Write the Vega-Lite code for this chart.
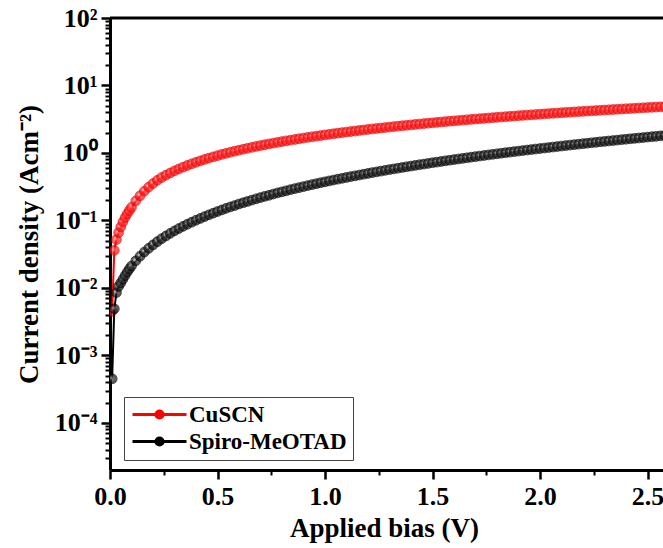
{
  "$schema": "https://vega.github.io/schema/vega-lite/v6.json",
  "width": 553,
  "height": 452,
  "autosize": {"type": "none"},
  "padding": {"left": 110, "top": 18, "right": 0, "bottom": 78},
  "config": {"view": {"stroke": null}, "font": "Liberation Serif"},
  "data": {"values": [
    {"V":0.01,"CuSCN":0.0045,"Spiro":0.00045},
    {"V":0.02,"CuSCN":0.036,"Spiro":0.0049},
    {"V":0.03,"CuSCN":0.052,"Spiro":0.0085},
    {"V":0.04,"CuSCN":0.066,"Spiro":0.0105},
    {"V":0.05,"CuSCN":0.08,"Spiro":0.0118},
    {"V":0.06,"CuSCN":0.095,"Spiro":0.0134},
    {"V":0.07,"CuSCN":0.11,"Spiro":0.0152},
    {"V":0.08,"CuSCN":0.125,"Spiro":0.0171},
    {"V":0.09,"CuSCN":0.14,"Spiro":0.0191},
    {"V":0.10,"CuSCN":0.156,"Spiro":0.0211},
    {"V":0.12,"CuSCN":0.195,"Spiro":0.0252},
    {"V":0.14,"CuSCN":0.232,"Spiro":0.0295},
    {"V":0.16,"CuSCN":0.272,"Spiro":0.034},
    {"V":0.18,"CuSCN":0.312,"Spiro":0.0386},
    {"V":0.20,"CuSCN":0.352,"Spiro":0.0434},
    {"V":0.22,"CuSCN":0.393,"Spiro":0.0484},
    {"V":0.24,"CuSCN":0.432,"Spiro":0.0535},
    {"V":0.26,"CuSCN":0.468,"Spiro":0.0588},
    {"V":0.28,"CuSCN":0.505,"Spiro":0.0643},
    {"V":0.30,"CuSCN":0.542,"Spiro":0.0699},
    {"V":0.32,"CuSCN":0.578,"Spiro":0.0757},
    {"V":0.34,"CuSCN":0.616,"Spiro":0.0817},
    {"V":0.36,"CuSCN":0.653,"Spiro":0.0878},
    {"V":0.38,"CuSCN":0.69,"Spiro":0.0941},
    {"V":0.40,"CuSCN":0.727,"Spiro":0.1006},
    {"V":0.42,"CuSCN":0.764,"Spiro":0.107},
    {"V":0.44,"CuSCN":0.801,"Spiro":0.114},
    {"V":0.46,"CuSCN":0.838,"Spiro":0.121},
    {"V":0.48,"CuSCN":0.875,"Spiro":0.128},
    {"V":0.50,"CuSCN":0.912,"Spiro":0.1355},
    {"V":0.52,"CuSCN":0.95,"Spiro":0.143},
    {"V":0.54,"CuSCN":0.987,"Spiro":0.151},
    {"V":0.56,"CuSCN":1.024,"Spiro":0.1585},
    {"V":0.58,"CuSCN":1.061,"Spiro":0.166},
    {"V":0.60,"CuSCN":1.099,"Spiro":0.175},
    {"V":0.62,"CuSCN":1.136,"Spiro":0.183},
    {"V":0.64,"CuSCN":1.173,"Spiro":0.191},
    {"V":0.66,"CuSCN":1.211,"Spiro":0.2},
    {"V":0.68,"CuSCN":1.248,"Spiro":0.209},
    {"V":0.70,"CuSCN":1.286,"Spiro":0.218},
    {"V":0.72,"CuSCN":1.323,"Spiro":0.227},
    {"V":0.74,"CuSCN":1.361,"Spiro":0.236},
    {"V":0.76,"CuSCN":1.398,"Spiro":0.246},
    {"V":0.78,"CuSCN":1.436,"Spiro":0.256},
    {"V":0.80,"CuSCN":1.473,"Spiro":0.265},
    {"V":0.82,"CuSCN":1.511,"Spiro":0.275},
    {"V":0.84,"CuSCN":1.549,"Spiro":0.286},
    {"V":0.86,"CuSCN":1.586,"Spiro":0.296},
    {"V":0.88,"CuSCN":1.624,"Spiro":0.306},
    {"V":0.90,"CuSCN":1.662,"Spiro":0.317},
    {"V":0.92,"CuSCN":1.699,"Spiro":0.328},
    {"V":0.94,"CuSCN":1.737,"Spiro":0.339},
    {"V":0.96,"CuSCN":1.775,"Spiro":0.35},
    {"V":0.98,"CuSCN":1.812,"Spiro":0.362},
    {"V":1.00,"CuSCN":1.85,"Spiro":0.373},
    {"V":1.02,"CuSCN":1.888,"Spiro":0.385},
    {"V":1.04,"CuSCN":1.926,"Spiro":0.397},
    {"V":1.06,"CuSCN":1.963,"Spiro":0.409},
    {"V":1.08,"CuSCN":2.001,"Spiro":0.421},
    {"V":1.10,"CuSCN":2.039,"Spiro":0.433},
    {"V":1.12,"CuSCN":2.077,"Spiro":0.446},
    {"V":1.14,"CuSCN":2.115,"Spiro":0.458},
    {"V":1.16,"CuSCN":2.152,"Spiro":0.471},
    {"V":1.18,"CuSCN":2.19,"Spiro":0.484},
    {"V":1.20,"CuSCN":2.228,"Spiro":0.497},
    {"V":1.22,"CuSCN":2.266,"Spiro":0.511},
    {"V":1.24,"CuSCN":2.304,"Spiro":0.524},
    {"V":1.26,"CuSCN":2.342,"Spiro":0.538},
    {"V":1.28,"CuSCN":2.38,"Spiro":0.552},
    {"V":1.30,"CuSCN":2.418,"Spiro":0.566},
    {"V":1.32,"CuSCN":2.456,"Spiro":0.58},
    {"V":1.34,"CuSCN":2.494,"Spiro":0.595},
    {"V":1.36,"CuSCN":2.532,"Spiro":0.609},
    {"V":1.38,"CuSCN":2.57,"Spiro":0.624},
    {"V":1.40,"CuSCN":2.607,"Spiro":0.639},
    {"V":1.42,"CuSCN":2.645,"Spiro":0.654},
    {"V":1.44,"CuSCN":2.683,"Spiro":0.669},
    {"V":1.46,"CuSCN":2.722,"Spiro":0.684},
    {"V":1.48,"CuSCN":2.76,"Spiro":0.7},
    {"V":1.50,"CuSCN":2.797,"Spiro":0.716},
    {"V":1.52,"CuSCN":2.836,"Spiro":0.731},
    {"V":1.54,"CuSCN":2.874,"Spiro":0.747},
    {"V":1.56,"CuSCN":2.912,"Spiro":0.764},
    {"V":1.58,"CuSCN":2.95,"Spiro":0.78},
    {"V":1.60,"CuSCN":2.988,"Spiro":0.797},
    {"V":1.62,"CuSCN":3.026,"Spiro":0.813},
    {"V":1.64,"CuSCN":3.064,"Spiro":0.83},
    {"V":1.66,"CuSCN":3.102,"Spiro":0.847},
    {"V":1.68,"CuSCN":3.14,"Spiro":0.865},
    {"V":1.70,"CuSCN":3.179,"Spiro":0.882},
    {"V":1.72,"CuSCN":3.217,"Spiro":0.9},
    {"V":1.74,"CuSCN":3.255,"Spiro":0.917},
    {"V":1.76,"CuSCN":3.293,"Spiro":0.935},
    {"V":1.78,"CuSCN":3.331,"Spiro":0.953},
    {"V":1.80,"CuSCN":3.369,"Spiro":0.971},
    {"V":1.82,"CuSCN":3.407,"Spiro":0.99},
    {"V":1.84,"CuSCN":3.446,"Spiro":1.008},
    {"V":1.86,"CuSCN":3.484,"Spiro":1.027},
    {"V":1.88,"CuSCN":3.522,"Spiro":1.046},
    {"V":1.90,"CuSCN":3.56,"Spiro":1.065},
    {"V":1.92,"CuSCN":3.599,"Spiro":1.084},
    {"V":1.94,"CuSCN":3.637,"Spiro":1.104},
    {"V":1.96,"CuSCN":3.675,"Spiro":1.123},
    {"V":1.98,"CuSCN":3.713,"Spiro":1.143},
    {"V":2.00,"CuSCN":3.751,"Spiro":1.163},
    {"V":2.02,"CuSCN":3.79,"Spiro":1.183},
    {"V":2.04,"CuSCN":3.828,"Spiro":1.203},
    {"V":2.06,"CuSCN":3.866,"Spiro":1.224},
    {"V":2.08,"CuSCN":3.905,"Spiro":1.244},
    {"V":2.10,"CuSCN":3.943,"Spiro":1.265},
    {"V":2.12,"CuSCN":3.981,"Spiro":1.286},
    {"V":2.14,"CuSCN":4.02,"Spiro":1.307},
    {"V":2.16,"CuSCN":4.058,"Spiro":1.328},
    {"V":2.18,"CuSCN":4.096,"Spiro":1.35},
    {"V":2.20,"CuSCN":4.135,"Spiro":1.371},
    {"V":2.22,"CuSCN":4.173,"Spiro":1.393},
    {"V":2.24,"CuSCN":4.211,"Spiro":1.415},
    {"V":2.26,"CuSCN":4.25,"Spiro":1.437},
    {"V":2.28,"CuSCN":4.288,"Spiro":1.46},
    {"V":2.30,"CuSCN":4.326,"Spiro":1.482},
    {"V":2.32,"CuSCN":4.365,"Spiro":1.505},
    {"V":2.34,"CuSCN":4.403,"Spiro":1.527},
    {"V":2.36,"CuSCN":4.442,"Spiro":1.55},
    {"V":2.38,"CuSCN":4.48,"Spiro":1.573},
    {"V":2.40,"CuSCN":4.519,"Spiro":1.597},
    {"V":2.42,"CuSCN":4.557,"Spiro":1.62},
    {"V":2.44,"CuSCN":4.595,"Spiro":1.644},
    {"V":2.46,"CuSCN":4.634,"Spiro":1.667},
    {"V":2.48,"CuSCN":4.672,"Spiro":1.691},
    {"V":2.50,"CuSCN":4.711,"Spiro":1.716},
    {"V":2.52,"CuSCN":4.749,"Spiro":1.74},
    {"V":2.54,"CuSCN":4.787,"Spiro":1.764},
    {"V":2.56,"CuSCN":4.826,"Spiro":1.789},
    {"V":2.58,"CuSCN":4.864,"Spiro":1.814},
    {"V":2.60,"CuSCN":4.903,"Spiro":1.839}
  ]},
  "transform": [
    {"fold": ["CuSCN", "Spiro"], "as": ["key", "J"]},
    {"lookup": "key", "from": {"data": {"values": [{"key": "CuSCN", "series": "CuSCN"}, {"key": "Spiro", "series": "Spiro-MeOTAD"}]}, "key": "key", "fields": ["series"]}}
  ],
  "resolve": {"axis": {"x": "independent", "y": "independent"}},
  "layer": [
    {
      "transform": [{"filter": "datum.key === 'CuSCN'"}],
      "mark": {"type": "line", "strokeWidth": 2, "clip": true},
      "encoding": {
        "x": {"field": "V", "type": "quantitative", "scale": {"domain": [0, 2.572], "nice": false, "zero": false},
          "axis": {"orient": "bottom", "values": [0, 0.25, 0.5, 0.75, 1, 1.25, 1.5, 1.75, 2, 2.25, 2.5],
            "labelExpr": "abs(datum.value * 2 - round(datum.value * 2)) < 0.01 ? format(datum.value, '.1f') : ''",
            "title": "Applied bias (V)",
            "grid": false, "domainColor": "black", "domainWidth": 3, "tickColor": "black",
            "tickWidth": {"condition": {"test": "abs(datum.value * 2 - round(datum.value * 2)) < 0.01", "value": 2.5}, "value": 2},
            "tickSize": {"condition": {"test": "abs(datum.value * 2 - round(datum.value * 2)) < 0.01", "value": 9}, "value": 5},
            "labelFont": "Liberation Serif", "labelFontWeight": "bold", "labelFontSize": 26, "labelColor": "black", "labelPadding": 4,
            "labelFlush": false, "labelOverlap": false,
            "titleFont": "Liberation Serif", "titleFontWeight": "bold", "titleFontSize": 27, "titleColor": "black",
            "titleX": 274, "titleY": 66, "titleBaseline": "alphabetic", "titleAlign": "center"}},
        "y": {"field": "J", "type": "quantitative", "scale": {"type": "log", "domain": [0.00002, 100], "nice": false},
          "axis": {"orient": "left",
            "values": [0.00003, 0.00004, 0.00005, 0.00006, 0.00007, 0.00008, 0.00009,
              0.0001, 0.0002, 0.0003, 0.0004, 0.0005, 0.0006, 0.0007, 0.0008, 0.0009,
              0.001, 0.002, 0.003, 0.004, 0.005, 0.006, 0.007, 0.008, 0.009,
              0.01, 0.02, 0.03, 0.04, 0.05, 0.06, 0.07, 0.08, 0.09,
              0.1, 0.2, 0.3, 0.4, 0.5, 0.6, 0.7, 0.8, 0.9,
              1, 2, 3, 4, 5, 6, 7, 8, 9,
              10, 20, 30, 40, 50, 60, 70, 80, 90, 100],
            "labelExpr": "abs(log(datum.value) / LN10 - round(log(datum.value) / LN10)) > 0.01 ? '' : datum.value > 50 ? '10²' : datum.value > 5 ? '10¹' : datum.value > 0.5 ? '10⁰' : datum.value > 0.05 ? '10⁻¹' : datum.value > 0.005 ? '10⁻²' : datum.value > 0.0005 ? '10⁻³' : '10⁻⁴'",
            "title": "Current density (Acm⁻²)", "grid": false, "domainColor": "black", "domainWidth": 3,
            "tickColor": "black",
            "tickWidth": {"condition": {"test": "abs(log(datum.value) / LN10 - round(log(datum.value) / LN10)) < 0.01", "value": 2.5}, "value": 2},
            "tickSize": {"condition": {"test": "abs(log(datum.value) / LN10 - round(log(datum.value) / LN10)) < 0.01", "value": 9}, "value": 5},
            "labelFont": "Liberation Serif", "labelFontWeight": "bold", "labelFontSize": 26, "labelColor": "black", "labelPadding": 4,
            "labelFlush": false, "labelOverlap": false,
            "titleFont": "Liberation Serif", "titleFontWeight": "bold", "titleFontSize": 27, "titleColor": "black",
            "titleX": -81, "titleY": 226, "titleAngle": 270, "titleBaseline": "middle", "titleAlign": "center"}},
        "color": {"field": "series", "type": "nominal",
          "scale": {"domain": ["CuSCN", "Spiro-MeOTAD"], "range": ["#ff0000", "#000000"]},
          "legend": {"orient": "none", "legendX": 14, "legendY": 379, "title": null,
            "symbolType": "M-1,0H5M1.6,0A0.4,0.4,0,1,1,2.4,0A0.4,0.4,0,1,1,1.6,0Z",
            "symbolSize": 324, "symbolStrokeWidth": 3,
            "labelFont": "Liberation Serif", "labelFontWeight": "bold", "labelFontSize": 23, "labelColor": "black",
            "labelOffset": 36, "padding": 6, "rowPadding": 3,
            "strokeColor": "#444444", "fillColor": "white",
            "encode": {"symbols": {"update": {"fill": {"signal": "scale('color', datum.value)"}}}}}}
      }
    },
    {
      "transform": [{"filter": "datum.key === 'CuSCN'"}],
      "mark": {"type": "point", "shape": "circle", "filled": true, "size": 95, "clip": true,
        "fill": {"gradient": "radial", "x1": 0.38, "y1": 0.38, "r1": 0, "x2": 0.5, "y2": 0.5, "r2": 0.5,
          "stops": [{"offset": 0, "color": "#ffd6d6"}, {"offset": 0.45, "color": "#ff2a2a"}, {"offset": 1, "color": "#ff0000"}]},
        "stroke": "#e00000", "strokeWidth": 1},
      "encoding": {
        "x": {"field": "V", "type": "quantitative", "scale": {"domain": [0, 2.572], "nice": false, "zero": false}, "axis": null},
        "y": {"field": "J", "type": "quantitative", "scale": {"type": "log", "domain": [0.00002, 100], "nice": false}, "axis": null}
      }
    },
    {
      "transform": [{"filter": "datum.key === 'Spiro'"}],
      "mark": {"type": "line", "strokeWidth": 2, "clip": true},
      "encoding": {
        "x": {"field": "V", "type": "quantitative", "scale": {"domain": [0, 2.572], "nice": false, "zero": false}, "axis": null},
        "y": {"field": "J", "type": "quantitative", "scale": {"type": "log", "domain": [0.00002, 100], "nice": false}, "axis": null},
        "color": {"field": "series", "type": "nominal",
          "scale": {"domain": ["CuSCN", "Spiro-MeOTAD"], "range": ["#ff0000", "#000000"]}}
      }
    },
    {
      "transform": [{"filter": "datum.key === 'Spiro'"}],
      "mark": {"type": "point", "shape": "circle", "filled": true, "size": 95, "clip": true,
        "fill": {"gradient": "radial", "x1": 0.38, "y1": 0.38, "r1": 0, "x2": 0.5, "y2": 0.5, "r2": 0.5,
          "stops": [{"offset": 0, "color": "#e0e0e0"}, {"offset": 0.45, "color": "#303030"}, {"offset": 1, "color": "#000000"}]},
        "stroke": "#000000", "strokeWidth": 1},
      "encoding": {
        "x": {"field": "V", "type": "quantitative", "scale": {"domain": [0, 2.572], "nice": false, "zero": false}, "axis": null},
        "y": {"field": "J", "type": "quantitative", "scale": {"type": "log", "domain": [0.00002, 100], "nice": false}, "axis": null}
      }
    },
    {
      "data": {"values": [{"top": 100}]},
      "mark": {"type": "rule", "strokeWidth": 3, "color": "black"},
      "encoding": {
        "y": {"field": "top", "type": "quantitative", "scale": {"type": "log", "domain": [0.00002, 100], "nice": false}, "axis": null}
      }
    }
  ]
}
